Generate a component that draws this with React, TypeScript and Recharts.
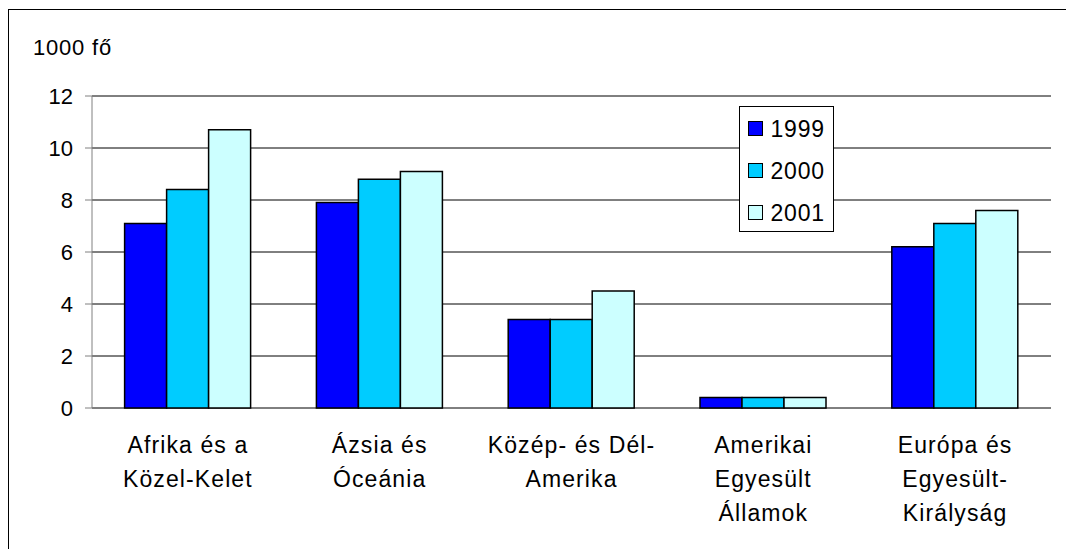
import { BarChart, Bar, XAxis, YAxis, CartesianGrid, Legend } from 'recharts'

const regions = [
  'Afrika és a\nKözel-Kelet',
  'Ázsia és\nÓceánia',
  'Közép- és Dél-\nAmerika',
  'Amerikai\nEgyesült\nÁllamok',
  'Európa és\nEgyesült-\nKirályság',
]
const y1999 = [7.1, 7.9, 3.4, 0.4, 6.2]
const y2000 = [8.4, 8.8, 3.4, 0.4, 7.1]
const y2001 = [10.7, 9.1, 4.5, 0.4, 7.6]
const yTicks = [0, 2, 4, 6, 8, 10, 12]
const edgeTicks = [0, 1, 2, 3, 4, 5]

const series = [
  { key: 'y1999', name: '1999', color: '#0000ff', values: y1999 },
  { key: 'y2000', name: '2000', color: '#00ccff', values: y2000 },
  { key: 'y2001', name: '2001', color: '#ccffff', values: y2001 },
]

const data = regions.map((r, i) => {
  const row: Record<string, string | number> = { region: r }
  series.forEach(s => { row[s.key] = s.values[i] })
  return row
})

const FONT = '"Liberation Sans", Arial, sans-serif'

function RegionTick({ x, y, payload }: any) {
  const lines = String(payload.value).split('\n')
  return (
    <text x={x} y={y} textAnchor="middle" fill="#000" fontSize={23} fontFamily={FONT} letterSpacing={1.1}>
      {lines.map((l, i) => (
        <tspan key={i} x={x} y={y + 44.5 + i * 34}>{l}</tspan>
      ))}
    </text>
  )
}

function LegendBox() {
  return (
    <div style={{ width: 95, height: 126, boxSizing: 'border-box', border: '1px solid #000', background: '#fff', fontFamily: FONT, fontSize: 23, letterSpacing: 0.8 }}>
      {series.map((s, i) => (
        <div key={s.key} style={{ position: 'absolute', left: 9, top: 15 + i * 42, display: 'flex', alignItems: 'center', lineHeight: '16px' }}>
          <span style={{ width: 15, height: 15, boxSizing: 'border-box', border: '1.5px solid #000', background: s.color, display: 'inline-block' }} />
          <span style={{ marginLeft: 8, color: '#000' }}>{s.name}</span>
        </div>
      ))}
    </div>
  )
}

export default function App() {
  return (
    <div style={{ position: 'relative', width: 1066, height: 541, overflow: 'hidden', background: '#fff' }}>
      <div style={{ position: 'absolute', left: 0, top: 1, width: 1100, height: 600, borderTop: '1px solid #000', borderLeft: '1px solid #000' }} />
      <div style={{ position: 'absolute', left: 25, top: 29, fontFamily: FONT, fontSize: 22, lineHeight: '22px', letterSpacing: 0.8, color: '#000' }}>1000 fő</div>
      <div style={{ position: 'absolute', left: 0.5, top: 0.5 }}>
        <BarChart width={1066} height={541} data={data} margin={{ top: 87, right: 24, bottom: 0, left: 0 }} barCategoryGap="17%" barGap={0}>
          <CartesianGrid vertical={false} stroke="#000" strokeWidth={1} />
          <XAxis xAxisId="edges" type="number" domain={[0, 5]} ticks={edgeTicks} allowDataOverflow tick={false} axisLine={false} tickSize={7} tickLine={{ stroke: '#808080' }} height={1} />
          <XAxis dataKey="region" interval={0} axisLine={false} tickLine={false} tickSize={0} tickMargin={0} height={141} tick={<RegionTick />} />
          <YAxis domain={[0, 12]} ticks={yTicks} width={83} tickSize={7} tickMargin={12} axisLine={{ stroke: '#808080' }} tickLine={{ stroke: '#808080' }} tick={{ fill: '#000', fontSize: 22, fontFamily: FONT }} />
          <Legend verticalAlign="middle" align="center" layout="horizontal" wrapperStyle={{ left: 730, top: 97, width: 95, height: 126 }} content={() => <LegendBox />} />
          {series.map(s => (
            <Bar key={s.key} dataKey={s.key} name={s.name} fill={s.color} stroke="#000" strokeWidth={1.5} isAnimationActive={false} />
          ))}
        </BarChart>
      </div>
    </div>
  )
}
